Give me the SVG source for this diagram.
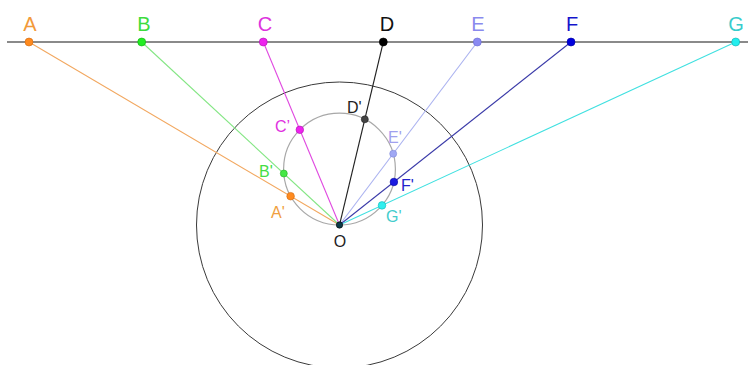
<svg xmlns="http://www.w3.org/2000/svg" width="748" height="365" viewBox="0 0 748 365">
<style>
text{font-family:"Liberation Sans",Arial,sans-serif}
.big{font-size:20px;text-anchor:middle}
.pr{font-size:16px}
.ray{stroke-width:1.1;fill:none}
.pt{stroke-width:0.6}
</style>
<rect width="748" height="365" fill="#fff"/>
<g id="base-line"><line x1="7" y1="42" x2="748" y2="42" stroke="#8a8a8a" stroke-width="1.8"/></g>
<g id="inversion-circle"><circle cx="339.5" cy="225" r="143" fill="none" stroke="#3a3a3a" stroke-width="1"/></g>
<g id="image-circle"><circle cx="339.5" cy="169.1" r="55.9" fill="none" stroke="#a8a8a8" stroke-width="1.2"/></g>
<g id="connectors">
<line class="ray" x1="29" y1="42" x2="339.5" y2="225" stroke="#f2a860"/>
<line class="ray" x1="141.7" y1="42" x2="339.5" y2="225" stroke="#84e684"/>
<line class="ray" x1="263.3" y1="42" x2="339.5" y2="225" stroke="#e048e0"/>
<line class="ray" x1="383.3" y1="42" x2="339.5" y2="225" stroke="#222"/>
<line class="ray" x1="477.3" y1="42" x2="339.5" y2="225" stroke="#aab2f0"/>
<line class="ray" x1="571" y1="42" x2="339.5" y2="225" stroke="#3a3aa8"/>
<line class="ray" x1="735.7" y1="42" x2="339.5" y2="225" stroke="#40e0e0"/>
</g>
<g id="A"><circle class="pt" cx="29" cy="42" r="4" fill="#ff8a1e" stroke="#d06a10"/><text class="big" x="30" y="31" fill="#f29a3a">A</text></g>
<g id="B"><circle class="pt" cx="141.7" cy="42" r="4" fill="#22ee22" stroke="#10b010"/><text class="big" x="144" y="31" fill="#3ddc3d">B</text></g>
<g id="C"><circle class="pt" cx="263.3" cy="42" r="4" fill="#ee22ee" stroke="#b010b0"/><text class="big" x="265" y="31" fill="#dd33dd">C</text></g>
<g id="D"><circle class="pt" cx="383.3" cy="42" r="4" fill="#000" stroke="#000"/><text class="big" x="387" y="31" fill="#111">D</text></g>
<g id="E"><circle class="pt" cx="477.3" cy="42" r="4" fill="#8a8af2" stroke="#6a6ad0"/><text class="big" x="478" y="31" fill="#8a8aee">E</text></g>
<g id="F"><circle class="pt" cx="571" cy="42" r="4" fill="#0000dd" stroke="#0000a0"/><text class="big" x="572" y="31" fill="#1414cc">F</text></g>
<g id="G"><circle class="pt" cx="735.7" cy="42" r="4" fill="#22eeee" stroke="#10b0b0"/><text class="big" x="736" y="31" fill="#38cccc">G</text></g>
<g id="A-prime"><circle class="pt" cx="290.6" cy="196.2" r="3.8" fill="#ff8a1e" stroke="#d06a10"/><text class="pr" x="271" y="218" fill="#f0a040">A'</text></g>
<g id="B-prime"><circle class="pt" cx="283.8" cy="173.5" r="3.5" fill="#44e844" stroke="#20b020"/><text class="pr" x="259" y="177" fill="#44dd44">B'</text></g>
<g id="C-prime"><circle class="pt" cx="299.8" cy="129.8" r="3.8" fill="#ee22ee" stroke="#b010b0"/><text class="pr" x="275" y="132" fill="#e030e0">C’</text></g>
<g id="D-prime"><circle class="pt" cx="364.8" cy="119.3" r="3.5" fill="#444" stroke="#222"/><text class="pr" x="347" y="113" fill="#222">D'</text></g>
<g id="E-prime"><circle class="pt" cx="393.2" cy="153.7" r="3.5" fill="#a0a8f4" stroke="#8088d8"/><text class="pr" x="388" y="143" fill="#a0a0ee">E'</text></g>
<g id="F-prime"><circle class="pt" cx="393.9" cy="182" r="3.8" fill="#1a1ae0" stroke="#0000a0"/><text class="pr" x="401" y="191" fill="#2222cc">F'</text></g>
<g id="G-prime"><circle class="pt" cx="382" cy="205.4" r="3.8" fill="#30eeee" stroke="#10b8b8"/><text class="pr" x="386" y="222" fill="#44cccc">G'</text></g>
<g id="O"><circle class="pt" cx="339.5" cy="225" r="3.2" fill="#0c3a48" stroke="#000"/><text x="340" y="246.5" font-size="16" text-anchor="middle" fill="#222">O</text></g>
</svg>
